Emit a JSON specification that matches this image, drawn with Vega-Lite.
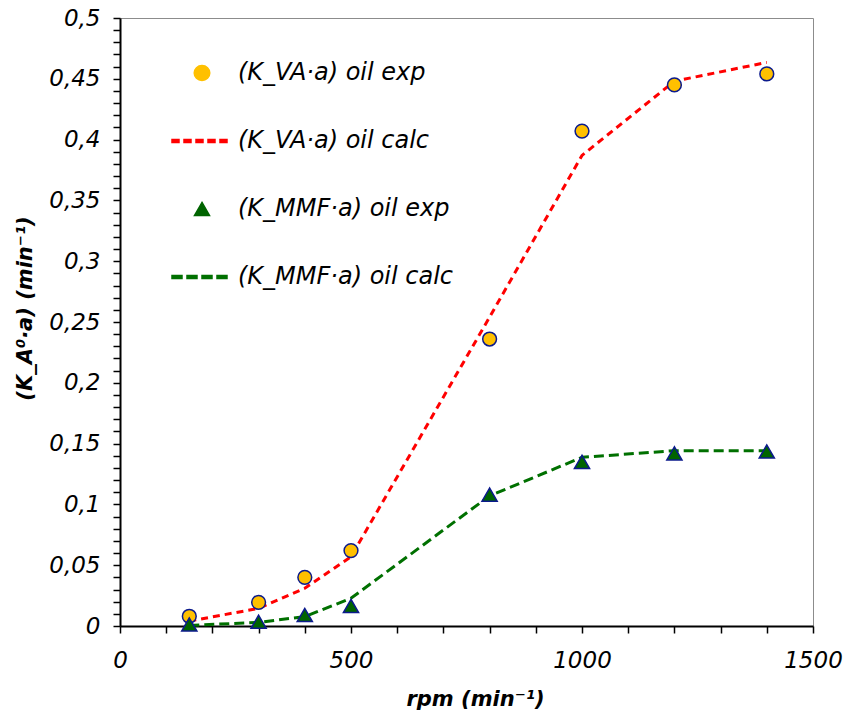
{
  "$schema": "https://vega.github.io/schema/vega-lite/v6.json",
  "width": 693,
  "height": 608,
  "autosize": "none",
  "padding": {"left": 120, "top": 18, "right": 37, "bottom": 91},
  "background": "white",
  "data": {
    "values": [
      {"rpm": 150, "k": 0.008, "series": "(K_VA·a) oil exp"},
      {"rpm": 300, "k": 0.0195, "series": "(K_VA·a) oil exp"},
      {"rpm": 400, "k": 0.040, "series": "(K_VA·a) oil exp"},
      {"rpm": 500, "k": 0.062, "series": "(K_VA·a) oil exp"},
      {"rpm": 800, "k": 0.236, "series": "(K_VA·a) oil exp"},
      {"rpm": 1000, "k": 0.407, "series": "(K_VA·a) oil exp"},
      {"rpm": 1200, "k": 0.445, "series": "(K_VA·a) oil exp"},
      {"rpm": 1400, "k": 0.454, "series": "(K_VA·a) oil exp"},
      {"rpm": 150, "k": 0.004, "series": "(K_VA·a) oil calc"},
      {"rpm": 300, "k": 0.0145, "series": "(K_VA·a) oil calc"},
      {"rpm": 400, "k": 0.031, "series": "(K_VA·a) oil calc"},
      {"rpm": 500, "k": 0.057, "series": "(K_VA·a) oil calc"},
      {"rpm": 800, "k": 0.254, "series": "(K_VA·a) oil calc"},
      {"rpm": 1000, "k": 0.387, "series": "(K_VA·a) oil calc"},
      {"rpm": 1200, "k": 0.448, "series": "(K_VA·a) oil calc"},
      {"rpm": 1400, "k": 0.4635, "series": "(K_VA·a) oil calc"},
      {"rpm": 150, "k": 0.0012, "series": "(K_MMF·a) oil exp"},
      {"rpm": 300, "k": 0.0035, "series": "(K_MMF·a) oil exp"},
      {"rpm": 400, "k": 0.009, "series": "(K_MMF·a) oil exp"},
      {"rpm": 500, "k": 0.0165, "series": "(K_MMF·a) oil exp"},
      {"rpm": 800, "k": 0.108, "series": "(K_MMF·a) oil exp"},
      {"rpm": 1000, "k": 0.135, "series": "(K_MMF·a) oil exp"},
      {"rpm": 1200, "k": 0.142, "series": "(K_MMF·a) oil exp"},
      {"rpm": 1400, "k": 0.1435, "series": "(K_MMF·a) oil exp"},
      {"rpm": 150, "k": 0.0005, "series": "(K_MMF·a) oil calc"},
      {"rpm": 300, "k": 0.003, "series": "(K_MMF·a) oil calc"},
      {"rpm": 400, "k": 0.0077, "series": "(K_MMF·a) oil calc"},
      {"rpm": 500, "k": 0.0228, "series": "(K_MMF·a) oil calc"},
      {"rpm": 800, "k": 0.107, "series": "(K_MMF·a) oil calc"},
      {"rpm": 1000, "k": 0.1387, "series": "(K_MMF·a) oil calc"},
      {"rpm": 1200, "k": 0.1442, "series": "(K_MMF·a) oil calc"},
      {"rpm": 1400, "k": 0.1442, "series": "(K_MMF·a) oil calc"}
    ]
  },
  "encoding": {
    "x": {
      "field": "rpm", "type": "quantitative",
      "scale": {"domain": [0, 1500], "nice": false, "zero": false},
      "axis": {
        "title": "rpm (min⁻¹)",
        "values": [0,100,200,300,400,500,600,700,800,900,1000,1100,1200,1300,1400,1500],
        "labelExpr": "datum.value % 500 == 0 ? format(datum.value, 'd') : ''",
        "labelOverlap": false, "labelFlush": false,
        "tickSize": 7, "labelPadding": 16,
        "titleX": 355, "titleY": 79, "titleBaseline": "alphabetic", "titleAnchor": null
      }
    },
    "y": {
      "field": "k", "type": "quantitative",
      "scale": {"domain": [0, 0.5], "nice": false, "zero": true},
      "axis": {
        "title": "(K_A⁰·a) (min⁻¹)",
        "values": [0,0.01,0.02,0.03,0.04,0.05,0.06,0.07,0.08,0.09,0.1,0.11,0.12,0.13,0.14,0.15,0.16,0.17,0.18,0.19,0.2,0.21,0.22,0.23,0.24,0.25,0.26,0.27,0.28,0.29,0.3,0.31,0.32,0.33,0.34,0.35,0.36,0.37,0.38,0.39,0.4,0.41,0.42,0.43,0.44,0.45,0.46,0.47,0.48,0.49,0.5],
        "labelExpr": "round(datum.value * 100) % 5 == 0 ? replace(format(datum.value, '.2~f'), '.', ',') : ''",
        "labelOverlap": false, "labelFlush": false,
        "tickSize": 7, "labelPadding": 13,
        "titleX": -89, "titleY": 290, "titleBaseline": "alphabetic", "titleAngle": 270
      }
    },
    "color": {
      "field": "series", "type": "nominal",
      "scale": {
        "domain": ["(K_VA·a) oil exp", "(K_VA·a) oil calc", "(K_MMF·a) oil exp", "(K_MMF·a) oil calc"],
        "range": ["#FFC000", "#FF0000", "#006400", "#007000"]
      },
      "legend": {
        "title": null,
        "orient": "none",
        "legendX": 51,
        "legendY": 25,
        "direction": "vertical",
        "padding": 0,
        "clipHeight": 60,
        "rowPadding": 8,
        "labelOffset": 5,
        "symbolOffset": 0,
        "symbolSize": 3600,
        "symbolStrokeWidth": 1.5,
        "labelLimit": 400,
        "labelFont": "DejaVu Sans",
        "labelFontStyle": "italic",
        "labelFontSize": 24,
        "labelColor": "black",
        "encode": {
          "symbols": {
            "update": {
              "shape": {"signal": "datum.value == '(K_VA·a) oil exp' ? 'M0.26,0A0.26,0.25,0,1,1,-0.26,0A0.26,0.25,0,1,1,0.26,0Z' : datum.value == '(K_MMF·a) oil exp' ? 'M0,-0.2167L0.25,0.2167L-0.25,0.2167Z' : datum.value == '(K_VA·a) oil calc' ? 'M-1,-0.05H-0.7667V0.05H-1ZM-0.6,-0.05H-0.3667V0.05H-0.6ZM-0.2,-0.05H0.0333V0.05H-0.2ZM0.2,-0.05H0.4333V0.05H0.2ZM0.6,-0.05H0.8333V0.05H0.6Z' : 'M-1,-0.05H-0.6667V0.05H-1ZM-0.5,-0.05H-0.1667V0.05H-0.5ZM0,-0.05H0.3333V0.05H0ZM0.5,-0.05H0.8333V0.05H0.5Z'"},
              "fill": {"signal": "datum.value == '(K_VA·a) oil exp' ? '#FFC000' : datum.value == '(K_MMF·a) oil exp' ? '#006400' : datum.value == '(K_VA·a) oil calc' ? '#FF0000' : '#007000'"},
              "stroke": {"signal": "indexof(datum.value, 'exp') >= 0 ? '#0B1A8C' : 'transparent'"},
              "strokeWidth": {"value": 1.5}
            }
          }
        }
      }
    }
  },
  "layer": [
    {
      "transform": [{"filter": "datum.series == '(K_VA·a) oil calc'"}],
      "mark": {"type": "line", "strokeWidth": 3, "strokeDash": [7, 5]}
    },
    {
      "transform": [{"filter": "datum.series == '(K_MMF·a) oil calc'"}],
      "mark": {"type": "line", "strokeWidth": 3, "strokeDash": [10, 5]}
    },
    {
      "transform": [{"filter": "datum.series == '(K_VA·a) oil exp'"}],
      "mark": {"type": "point", "shape": "circle", "filled": true, "size": 190, "stroke": "#0B1A8C", "strokeWidth": 1.5, "opacity": 1}
    },
    {
      "transform": [{"filter": "datum.series == '(K_MMF·a) oil exp'"}],
      "mark": {"type": "point", "shape": "triangle-up", "filled": true, "size": 230, "stroke": "#0B1A8C", "strokeWidth": 1.5, "opacity": 1}
    }
  ],
  "config": {
    "view": {"stroke": "#8c8c8c", "strokeWidth": 1},
    "axis": {
      "grid": false,
      "domainColor": "black",
      "domainWidth": 2,
      "tickColor": "black",
      "tickWidth": 1.5,
      "labelFont": "DejaVu Sans",
      "labelFontStyle": "italic",
      "labelFontSize": 23,
      "labelColor": "black",
      "titleFont": "DejaVu Sans",
      "titleFontStyle": "italic",
      "titleFontWeight": "bold",
      "titleFontSize": 21,
      "titleColor": "black"
    }
  }
}
